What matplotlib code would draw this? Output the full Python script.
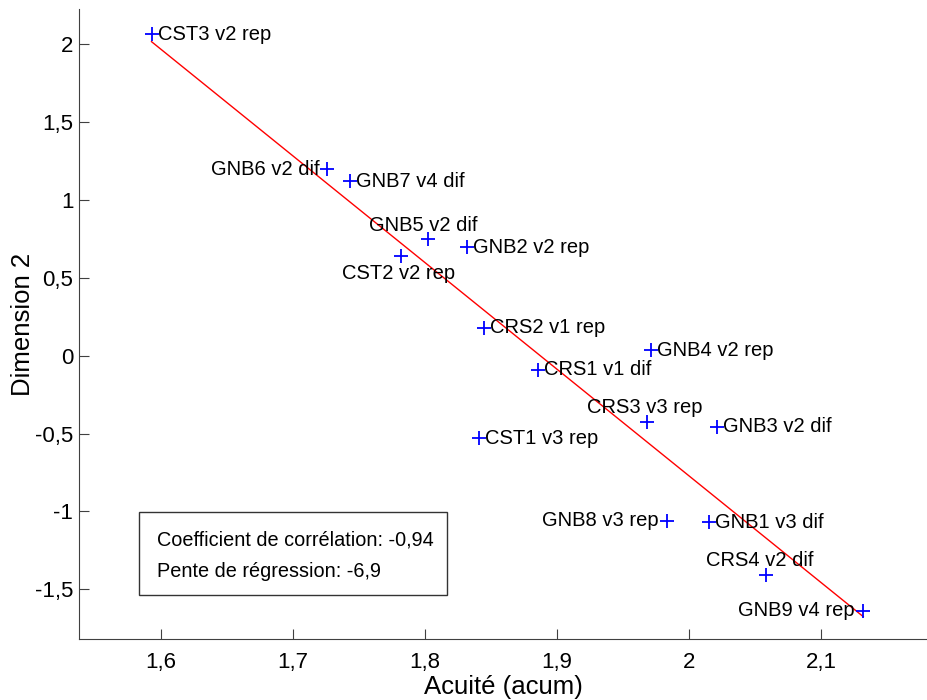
import numpy as np
import matplotlib
matplotlib.use('Agg')
import matplotlib.pyplot as plt
from matplotlib.ticker import FuncFormatter
from matplotlib.patches import Rectangle

plt.rcParams['font.family'] = ['Liberation Sans', 'DejaVu Sans']

# data
labels = ['CST3 v2 rep', 'GNB6 v2 dif', 'GNB7 v4 dif', 'GNB5 v2 dif', 'CST2 v2 rep',
          'GNB2 v2 rep', 'CRS2 v1 rep', 'GNB4 v2 rep', 'CRS1 v1 dif', 'CRS3 v3 rep',
          'GNB3 v2 dif', 'CST1 v3 rep', 'GNB8 v3 rep', 'GNB1 v3 dif', 'CRS4 v2 dif',
          'GNB9 v4 rep']
acuite = [1.593, 1.726, 1.743, 1.8025, 1.782, 1.832, 1.845, 1.971, 1.886, 1.968,
          2.021, 1.841, 1.983, 2.015, 2.058, 2.132]
dim2 = [2.066, 1.197, 1.122, 0.747, 0.639, 0.697, 0.178, 0.034, -0.090, -0.426,
        -0.458, -0.529, -1.062, -1.069, -1.411, -1.639]

corr_text = 'Coefficient de corrélation: -0,94'
slope_text = 'Pente de régression: -6,9'

# label placement: (dx, dy) in pixels, horizontal alignment
label_pos = {
    'GNB6 v2 dif': (-8, 0, 'right'),
    'GNB8 v3 rep': (-8, 0, 'right'),
    'GNB9 v4 rep': (-9, 0, 'right'),
    'GNB5 v2 dif': (-5, 14, 'center'),
    'CST2 v2 rep': (-3, -17, 'center'),
    'CRS3 v3 rep': (-2, 14, 'center'),
    'CRS4 v2 dif': (-6, 15, 'center'),
}

fig = plt.figure(figsize=(9.28, 7), dpi=100)
ax = fig.add_axes([0.085, 0.087, 0.915, 0.90])

x = np.array(acuite)
y = np.array(dim2)
p = np.polyfit(x, y, 1)
xl = np.array([x.min(), x.max()])
ax.plot(xl, np.polyval(p, xl), color='red', lw=1)

ax.plot(x, y, '+', color='blue', ms=10, mew=1.3, zorder=3)

for lab, xi, yi in zip(labels, x, y):
    dx, dy, ha = label_pos.get(lab, (6, 0, 'left'))
    ax.annotate(lab, (xi, yi), xytext=(dx, dy), textcoords='offset pixels',
                ha=ha, va='center', fontsize=14.5)

ax.set_xlim(1.538, 2.181)
ax.set_ylim(-1.821, 2.227)
ax.set_xticks([1.6, 1.7, 1.8, 1.9, 2.0, 2.1])
ax.set_yticks([-1.5, -1, -0.5, 0, 0.5, 1, 1.5, 2])
fmt = FuncFormatter(lambda v, pos: ('%g' % round(v, 2)).replace('.', ','))
ax.xaxis.set_major_formatter(fmt)
ax.yaxis.set_major_formatter(fmt)

ax.spines['top'].set_visible(False)
ax.spines['right'].set_visible(False)
for s in ['left', 'bottom']:
    ax.spines[s].set_color('0.25')
ax.tick_params(direction='in', length=7, color='0.25', labelsize=16)
ax.tick_params(axis='x', pad=9)
ax.tick_params(axis='y', pad=4)

ax.set_xlabel('Acuité (acum)', fontsize=18.5, labelpad=2)
ax.set_ylabel('Dimension 2', fontsize=18.5, labelpad=0)

ax.add_patch(Rectangle((0.0707, 0.0698), 0.3626, 0.1318, transform=ax.transAxes,
                       fill=False, edgecolor='0.2', lw=1, zorder=4))
ax.text(0.0919, 0.157, corr_text, transform=ax.transAxes, fontsize=14.3, va='center')
ax.text(0.0919, 0.108, slope_text, transform=ax.transAxes, fontsize=14.3, va='center')

fig.savefig('out.png', dpi=100)
